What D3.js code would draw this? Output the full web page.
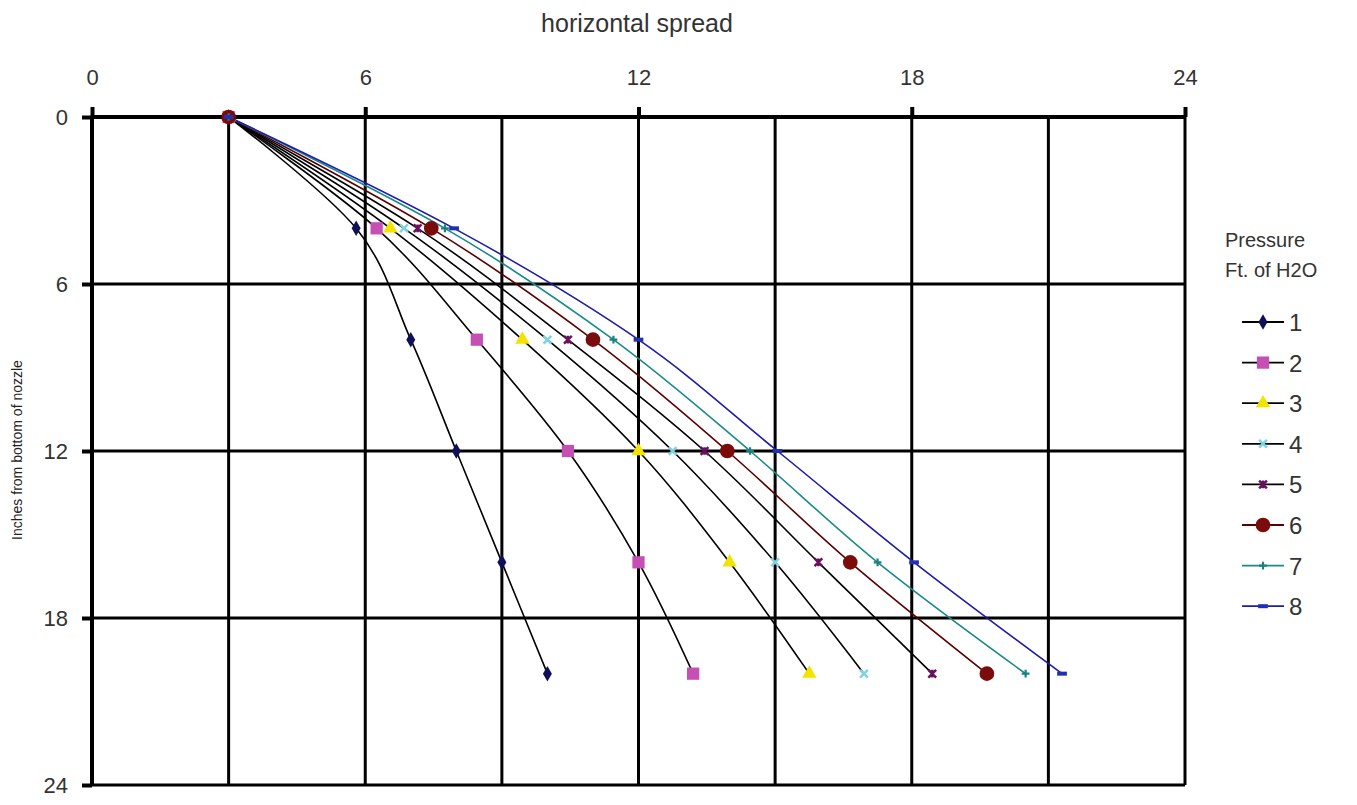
<!DOCTYPE html>
<html>
<head>
<meta charset="utf-8">
<script src="https://cdn.jsdelivr.net/npm/d3@7"></script>
<style>
  body { margin: 0; background: #fff; }
  svg { display: block; font-family: 'Liberation Sans', Arial, sans-serif; }
</style>
</head>
<body>
<div id="chart"></div>
<script>
// depth below the nozzle (inches) where each spread was read
const depths = [0, 4, 8, 12, 16, 20];
// horizontal spread for each pressure (ft of H2O)
const pressures = ['1', '2', '3', '4', '5', '6', '7', '8'];
const spread1 = [3, 5.8, 7, 8, 9, 10];
const spread2 = [3, 6.25, 8.45, 10.45, 12, 13.2];
const spread3 = [3, 6.55, 9.45, 12, 14, 15.75];
const spread4 = [3, 6.85, 10, 12.75, 15, 16.95];
const spread5 = [3, 7.15, 10.45, 13.45, 15.95, 18.45];
const spread6 = [3, 7.45, 11, 13.95, 16.65, 19.65];
const spread7 = [3, 7.75, 11.45, 14.45, 17.25, 20.5];
const spread8 = [3, 7.95, 12, 15.05, 18.05, 21.3];
const xTicks = [0, 6, 12, 18, 24];
const yTicks = [0, 6, 12, 18, 24];

const spreads = [spread1, spread2, spread3, spread4, spread5, spread6, spread7, spread8];

const styles = [
  { line: '#000', fill: '#10105a', shape: 'diamond', size: 70 },
  { line: '#000', fill: '#c64fb3', shape: 'square', size: 150 },
  { line: '#000', fill: '#f2e400', shape: 'triangle', size: 90 },
  { line: '#000', fill: '#7fd4e4', shape: 'cross', size: 60 },
  { line: '#000', fill: '#6a1060', shape: 'star', size: 60 },
  { line: '#5a0000', fill: '#7a0c0c', shape: 'circle', size: 170 },
  { line: '#1a8a8a', fill: '#1a8080', shape: 'plus', size: 60 },
  { line: '#1c1ca8', fill: '#2030b0', shape: 'dash', size: 60 }
];

const width = 1357, height = 805;
const svg = d3.select('#chart').append('svg')
  .attr('width', width)
  .attr('height', height);

const x = d3.scaleLinear().domain([0, 24]).range([92, 1185]);
const y = d3.scaleLinear().domain([0, 24]).range([117, 785]);

// grid
const grid = svg.append('g');
d3.range(3, 25, 3).forEach(v => {
  grid.append('line')
    .attr('x1', x(v)).attr('x2', x(v))
    .attr('y1', y(0)).attr('y2', y(24))
    .attr('stroke', '#000').attr('stroke-width', 3);
});
d3.range(6, 25, 6).forEach(v => {
  grid.append('line')
    .attr('x1', x(0)).attr('x2', x(24))
    .attr('y1', y(v)).attr('y2', y(v))
    .attr('stroke', '#000').attr('stroke-width', 3);
});

// axes
const xAxis = svg.append('g')
  .attr('transform', `translate(0,${y(0)})`)
  .call(d3.axisTop(x).tickValues(xTicks).tickSize(10).tickPadding(22));
const yAxis = svg.append('g')
  .attr('transform', `translate(${x(0)},0)`)
  .call(d3.axisLeft(y).tickValues(yTicks).tickSize(10).tickPadding(14));

[xAxis, yAxis].forEach(a => {
  a.select('.domain').attr('stroke', '#000').attr('stroke-width', 4);
  a.selectAll('.tick line').attr('stroke', '#000').attr('stroke-width', 4);
  a.selectAll('.tick text')
    .attr('fill', '#333')
    .style('font-size', '22px')
    .style('font-family', "'Liberation Sans', Arial, sans-serif");
});
xAxis.select('.domain').attr('d', `M${x(0)},0H${x(24)}`);
yAxis.select('.domain').attr('d', `M0,${y(0)}V${y(24)}`);

// titles
svg.append('text')
  .attr('x', 637).attr('y', 32)
  .attr('text-anchor', 'middle')
  .attr('fill', '#333')
  .style('font-size', '25px')
  .text('horizontal spread');

svg.append('text')
  .attr('transform', 'translate(22,450) rotate(-90)')
  .attr('text-anchor', 'middle')
  .attr('fill', '#222')
  .style('font-size', '14px')
  .text('Inches from bottom of nozzle');

// marker shapes
function marker(sel, st) {
  const s = Math.sqrt(st.size);
  const h = s / 2;
  if (st.shape === 'diamond') {
    sel.append('path').attr('d', d3.symbol(d3.symbolDiamond, st.size)()).attr('fill', st.fill);
  } else if (st.shape === 'square') {
    sel.append('path').attr('d', d3.symbol(d3.symbolSquare, st.size)()).attr('fill', st.fill);
  } else if (st.shape === 'triangle') {
    sel.append('path').attr('d', d3.symbol(d3.symbolTriangle, st.size)()).attr('fill', st.fill);
  } else if (st.shape === 'circle') {
    sel.append('path').attr('d', d3.symbol(d3.symbolCircle, st.size)()).attr('fill', st.fill);
  } else if (st.shape === 'cross') {
    sel.append('path').attr('d', `M${-h},${-h}L${h},${h}M${-h},${h}L${h},${-h}`)
      .attr('fill', 'none').attr('stroke', st.fill).attr('stroke-width', 2.5);
  } else if (st.shape === 'star') {
    sel.append('path').attr('d', `M${-h},${-h}L${h},${h}M${-h},${h}L${h},${-h}M0,${-h}V${h}`)
      .attr('fill', 'none').attr('stroke', st.fill).attr('stroke-width', 2.5);
  } else if (st.shape === 'plus') {
    sel.append('path').attr('d', `M${-h},0H${h}M0,${-h}V${h}`)
      .attr('fill', 'none').attr('stroke', st.fill).attr('stroke-width', 2.2);
  } else if (st.shape === 'dash') {
    sel.append('rect').attr('x', -h - 1).attr('y', -2).attr('width', s + 2).attr('height', 4)
      .attr('fill', st.fill);
  }
}

const line = d3.line()
  .x(d => x(d[0]))
  .y(d => y(d[1]))
  .curve(d3.curveCardinal.tension(0));

const plot = svg.append('g');
spreads.forEach((vals, i) => {
  const pts = vals.map((v, j) => [v, depths[j]]);
  plot.append('path')
    .attr('d', line(pts))
    .attr('fill', 'none')
    .attr('stroke', styles[i].line)
    .attr('stroke-width', 1.6);
});
spreads.forEach((vals, i) => {
  vals.forEach((v, j) => {
    const g = plot.append('g').attr('transform', `translate(${x(v)},${y(depths[j])})`);
    marker(g, styles[i]);
  });
});

// legend
const legend = svg.append('g');
legend.append('text')
  .attr('x', 1225).attr('y', 247)
  .attr('fill', '#333').style('font-size', '20px')
  .text('Pressure');
legend.append('text')
  .attr('x', 1225).attr('y', 277)
  .attr('fill', '#333').style('font-size', '20px')
  .text('Ft. of H2O');

pressures.forEach((p, i) => {
  const ly = 322 + i * 40.6;
  const g = legend.append('g').attr('transform', `translate(1263,${ly})`);
  g.append('line')
    .attr('x1', -21).attr('x2', 21)
    .attr('stroke', styles[i].line).attr('stroke-width', 1.8);
  marker(g, styles[i]);
  legend.append('text')
    .attr('x', 1289).attr('y', ly + 9)
    .attr('fill', '#333').style('font-size', '24px')
    .text(p);
});
</script>
</body>
</html>
